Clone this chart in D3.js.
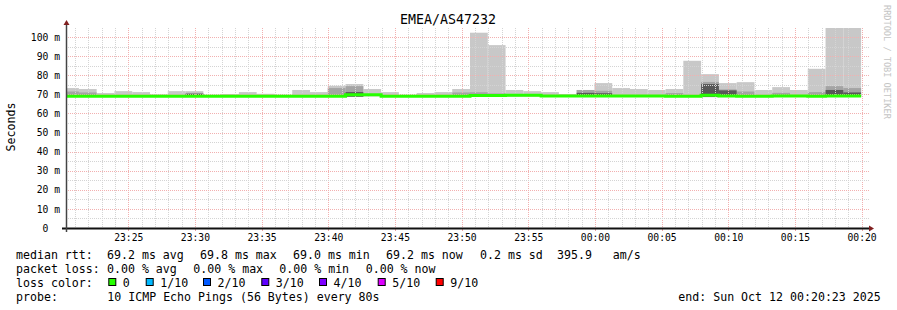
<!DOCTYPE html>
<meta charset="utf-8">
<title>EMEA/AS47232</title>
<style>
body { margin: 0; background: #fff; }
text { font-family: "DejaVu Sans Mono", monospace; fill: #000; }
.tick text { font-size: 9.7px; }
.legend text { font-size: 11.6px; white-space: pre; }
</style>
<svg width="897" height="310"></svg>
<script src="https://cdn.jsdelivr.net/npm/d3@7"></script>
<script>

// one smoke block every 80s, values in ms
var stepStart = Date.UTC(2025, 9, 11, 23, 19, 58);
var stepSec = 80;

var medMs = [69.0, 69.0, 69.0, 69.0, 69.0, 69.0, 69.0, 69.0, 69.0, 69.0,
             69.0, 69.0, 69.0, 69.0, 69.0, 69.0, 69.8, 69.8, 69.0, 69.0,
             69.0, 69.0, 69.0, 69.4, 69.4, 69.5, 69.5, 69.2, 69.2, 69.2,
             69.2, 69.2, 69.2, 69.2, 69.0, 69.0, 69.6, 69.2, 69.0, 69.0,
             69.2, 69.2, 69.0, 69.2, 69.2];
var minMs = [68.8, 68.8, 68.8, 68.8, 68.8, 68.8, 68.8, 68.8, 68.8, 68.8,
             68.8, 68.8, 68.8, 68.8, 68.8, 68.8, 68.8, 68.9, 68.8, 68.8,
             68.8, 68.8, 68.8, 68.8, 68.8, 68.8, 68.8, 68.8, 68.8, 68.8,
             68.8, 68.8, 68.8, 68.8, 68.8, 68.8, 68.6, 68.8, 68.8, 68.8,
             68.8, 68.8, 68.8, 68.8, 68.8];
var maxMs = [73.3, 72.8, 70.7, 71.7, 71.2, 70.0, 71.7, 71.7, 69.8, 70.2,
             71.2, 70.3, 69.8, 72.3, 71.2, 74.5, 75.4, 72.8, 71.2, 69.8,
             70.7, 71.2, 72.8, 102.3, 95.8, 72.3, 71.7, 71.2, 70.2, 72.3,
             75.9, 73.3, 72.8, 72.3, 72.8, 87.6, 80.6, 75.9, 76.4, 72.3,
             73.8, 72.3, 83.4, 110, 110];
var midMs = [71.5, 71.0, null, null, null, null, null, 70.8, null, null,
             null, null, null, null, null, 73.3, 74.3, null, null, null,
             null, null, 71.0, 71.1, 70.5, null, null, null, null, 72.3,
             71.9, null, null, null, 70.7, null, 76.5, 72.6, 71.5, null,
             70.8, null, 71.2, 74.3, 73.3];
var darkMs = [null, null, null, null, null, null, null, 70.3, null, null,
              null, null, null, null, null, null, 71.2, null, null, null,
              null, null, null, null, null, null, null, null, null, 70.8,
              70.6, null, null, null, null, null, 75.4, 72.1, null, null,
              null, null, null, 72.3, 71.0];

var yTicks = [0, 10, 20, 30, 40, 50, 60, 70, 80, 90, 100];

var rttStats = ["69.2 ms avg", "69.8 ms max", "69.0 ms min", "69.2 ms now", "0.2 ms sd", "395.9   am/s"];
var lossStats = ["0.00 % avg", "0.00 % max", "0.00 % min", "0.00 % now"];
var lossLabels = ["0", "1/10", "2/10", "3/10", "4/10", "5/10", "9/10"];
var lossColors = ["#26ff00", "#00b8ff", "#0059ff", "#5e00ff", "#7e00ff", "#dd00ff", "#ff0000"];
var probeText = "10 ICMP Echo Pings (56 Bytes) every 80s";
var endText = "end: Sun Oct 12 00:20:23 2025";

var svg = d3.select("svg");

var x = d3.scaleUtc()
    .domain([Date.UTC(2025, 9, 11, 23, 20, 20), Date.UTC(2025, 9, 12, 0, 20, 20)])
    .range([66, 866]);
var y = d3.scaleLinear().domain([0, 104.77]).range([228, 28]);

var blocks = medMs.map(function(m, i) {
  return {
    t0: new Date(stepStart + i * stepSec * 1000),
    t1: new Date(stepStart + (i + 1) * stepSec * 1000),
    med: m, min: minMs[i], max: maxMs[i], mid: midMs[i], dark: darkMs[i]
  };
});

svg.append("clipPath").attr("id", "plot")
  .append("rect").attr("x", 66).attr("y", 28).attr("width", 800).attr("height", 200);

var g = svg.append("g").attr("clip-path", "url(#plot)");

// smoke layers, outer to inner
[["max", "#c8c8c8"], ["mid", "#a4a4a4"], ["dark", "#585858"]].forEach(function(layer) {
  g.selectAll("rect." + layer[0])
    .data(blocks.filter(function(d) { return d[layer[0]] != null; }))
    .enter().append("rect")
      .attr("class", layer[0])
      .attr("x", function(d) { return x(d.t0); })
      .attr("width", function(d) { return x(d.t1) - x(d.t0); })
      .attr("y", function(d) { return y(d[layer[0]]); })
      .attr("height", function(d) { return y(d.min) - y(d[layer[0]]); })
      .attr("fill", layer[1]);
});

// grid over the smoke
var grid = svg.append("g").attr("shape-rendering", "crispEdges");
var minutes = x.ticks(d3.utcMinute.every(1));
grid.selectAll("line.vg").data(minutes).enter().append("line")
  .attr("x1", function(d) { return Math.round(x(d)) + 0.5; })
  .attr("x2", function(d) { return Math.round(x(d)) + 0.5; })
  .attr("y1", 28).attr("y2", 228)
  .attr("stroke", function(d) { return d.getUTCMinutes() % 5 ? "#d4d4d4" : "#f2b0b0"; })
  .attr("stroke-dasharray", "1,1");
grid.selectAll("line.hg").data(d3.range(5, 105, 5)).enter().append("line")
  .attr("y1", function(d) { return Math.round(y(d)) + 0.5; })
  .attr("y2", function(d) { return Math.round(y(d)) + 0.5; })
  .attr("x1", 66).attr("x2", 869)
  .attr("stroke", function(d) { return d % 10 ? "#d4d4d4" : "#f2b0b0"; })
  .attr("stroke-dasharray", "1,1");

// median line (no loss -> green), stays solid over the grid
var medPts = blocks.map(function(d) { return [d.t0, d.med]; });
medPts.push([blocks[blocks.length - 1].t1, medMs[medMs.length - 1]]);
svg.append("path")
  .attr("clip-path", "url(#plot)")
  .attr("d", d3.line().curve(d3.curveStepAfter)
    .x(function(d) { return x(d[0]); })
    .y(function(d) { return y(d[1]); })(medPts))
  .attr("fill", "none")
  .attr("stroke", lossColors[0])
  .attr("stroke-width", 3);

// small marks under the axis at the labelled times
grid.selectAll("line.xt").data(x.ticks(d3.utcMinute.every(5))).enter().append("line")
  .attr("x1", function(d) { return Math.round(x(d)) + 0.5; })
  .attr("x2", function(d) { return Math.round(x(d)) + 0.5; })
  .attr("y1", 229).attr("y2", 231)
  .attr("stroke", "#e8a0a0");

// axes
var xAxis = svg.append("g").attr("transform", "translate(0,228)")
  .call(d3.axisBottom(x).ticks(d3.utcMinute.every(5)).tickFormat(d3.utcFormat("%H:%M")).tickSize(0).tickPadding(6));
xAxis.select(".domain").remove();

var yAxis = svg.append("g").attr("transform", "translate(66,0)")
  .call(d3.axisLeft(y).tickValues(yTicks).tickFormat(function(d) { return d ? d + " m" : "0"; }).tickSize(0).tickPadding(6));
yAxis.select(".domain").remove();
yAxis.selectAll(".tick text").filter(function(d) { return d === 0; }).attr("dx", -11.7);
svg.selectAll(".tick text").attr("font-family", null).attr("font-size", null);

svg.append("line").attr("x1", 62).attr("x2", 869).attr("y1", 228.5).attr("y2", 228.5)
  .attr("stroke", "#111").attr("stroke-width", 2);
svg.append("line").attr("x1", 66.5).attr("x2", 66.5).attr("y1", 232).attr("y2", 25)
  .attr("stroke", "#444").attr("stroke-width", 1.5);
svg.append("path").attr("d", "M869,225.5L874,228.5L869,231.5Z").attr("fill", "#801f1f");
svg.append("path").attr("d", "M63.5,25L66.5,20L69.5,25Z").attr("fill", "#801f1f");

// titles
svg.append("text").attr("x", 448).attr("y", 24).attr("text-anchor", "middle")
  .style("font-size", "13.3px").text("EMEA/AS47232");
svg.append("text").attr("transform", "translate(15,127) rotate(-90)").attr("text-anchor", "middle")
  .style("font-size", "11.6px").text("Seconds");
svg.append("text").attr("transform", "translate(884,5) rotate(90)")
  .style("font-size", "8.6px").style("fill", "#c4c4c4").text("RRDTOOL / TOBI OETIKER");

// legend
var leg = svg.append("g").attr("class", "legend");
var rows = [259, 273, 287, 301];
leg.append("text").attr("x", 16).attr("y", rows[0]).text("median rtt:");
leg.selectAll("text.rtt").data(rttStats).enter().append("text")
  .attr("x", function(d, i) { return [107, 200, 293, 386, 480, 557][i]; })
  .attr("y", rows[0]).text(function(d) { return d; });
leg.append("text").attr("x", 16).attr("y", rows[1]).text("packet loss:");
leg.selectAll("text.loss").data(lossStats).enter().append("text")
  .attr("x", function(d, i) { return [107, 193.3, 279.3, 365.7][i]; })
  .attr("y", rows[1]).text(function(d) { return d; });
leg.append("text").attr("x", 16).attr("y", rows[2]).text("loss color:");
var swX = [108.3, 145.7, 203, 261.3, 319, 377.7, 435.7];
leg.selectAll("rect.sw").data(lossColors).enter().append("rect")
  .attr("x", function(d, i) { return swX[i] + 0.5; })
  .attr("y", 278.5).attr("width", 7).attr("height", 7)
  .attr("fill", function(d) { return d; })
  .attr("stroke", "#000");
leg.selectAll("text.lc").data(lossLabels).enter().append("text")
  .attr("x", function(d, i) { return swX[i] + 14.5; })
  .attr("y", rows[2]).text(function(d) { return d; });
leg.append("text").attr("x", 16).attr("y", rows[3]).text("probe:");
leg.append("text").attr("x", 107.3).attr("y", rows[3]).text(probeText);
leg.append("text").attr("x", 678.3).attr("y", rows[3]).text(endText);

</script>
